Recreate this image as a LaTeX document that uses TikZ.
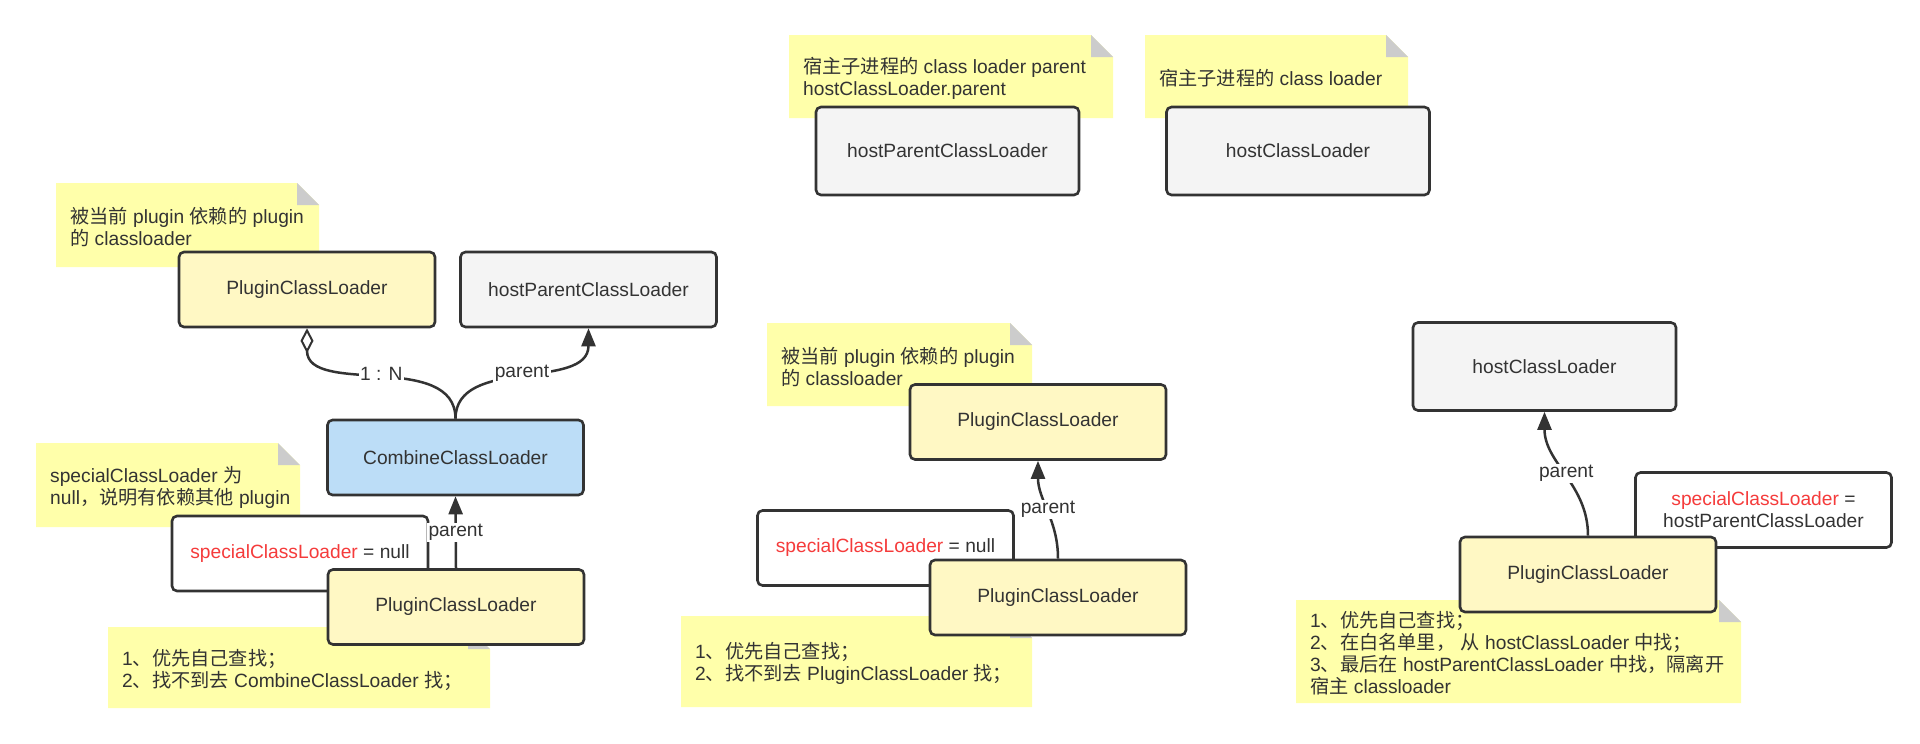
\documentclass[tikz,border=0pt]{standalone}
\usepackage{fontspec}
\setmainfont{Liberation Sans}
\newfontfamily\cjkfont{Noto Sans CJK SC}
\usetikzlibrary{arrows.meta}
\definecolor{inkc}{HTML}{333333}
\definecolor{notefill}{HTML}{FFFFAA}
\definecolor{foldgray}{HTML}{CCCCCC}
\definecolor{pluginfill}{HTML}{FFF8C4}
\definecolor{hostfill}{HTML}{F4F4F4}
\definecolor{combfill}{HTML}{BCDDF7}
\definecolor{redtxt}{HTML}{F53B3B}
\newcommand\zhtxt[1]{{\cjkfont #1}}
\newcommand\stickynote[6]{%
  \fill[notefill] (#2,#3) -- ({#4-22},#3) -- (#4,{#3+22}) -- (#4,#5) -- (#2,#5) -- cycle;
  \fill[foldgray] ({#4-22},#3) -- ({#4-22},{#3+22}) -- (#4,{#3+22}) -- cycle;
  \node[notetext] (#1) at ({#2+14},{(#3+#5)/2+2}) {#6};
}
\begin{document}
\begin{tikzpicture}[x=1pt,y=-1pt,
  txt/.style={text=inkc, font=\fontsize{19.2}{22}\selectfont},
  box/.style={txt, draw=inkc, line width=2.6pt, rounded corners=5pt,
    minimum width=256pt, minimum height=75pt, inner sep=0pt, align=center},
  bigbox/.style={box, minimum width=263pt, minimum height=88pt},
  pluginbox/.style={box, fill=pluginfill},
  hostbox/.style={box, fill=hostfill},
  combbox/.style={box, fill=combfill},
  whitebox/.style={box, fill=white},
  conn/.style={draw=inkc, line width=2.5pt},
  arr/.style={-{Triangle[length=18pt,width=14pt]}},
  agg/.style={-{Diamond[open,line width=2pt,length=25pt,width=13pt]}},
  lbl/.style={txt, fill=white, inner sep=1.5pt},
  notetext/.style={txt, align=left, inner sep=0pt, anchor=west}]
\fill[white] (0,0) rectangle (1920,744);
\useasboundingbox (0,0) rectangle (1920,744);

% ---------- notes ----------
\stickynote{noteA}{56}{183}{319}{267}{\zhtxt{被当前} plugin \zhtxt{依赖的} plugin\\\zhtxt{的} classloader}
\stickynote{noteB}{36}{443}{300}{527}{specialClassLoader \zhtxt{为}\\null\zhtxt{，说明有依赖其他} plugin}
\stickynote{noteC}{108}{627}{490}{708}{1\zhtxt{、优先自己查找；}\\2\zhtxt{、找不到去} CombineClassLoader \zhtxt{找；}}
\stickynote{noteD}{789}{35}{1113}{118}{\zhtxt{宿主子进程的} class loader parent\\hostClassLoader.parent}
\stickynote{noteE}{1145}{35}{1408}{118}{\zhtxt{宿主子进程的} class loader}
\stickynote{noteF}{767}{323}{1032}{406}{\zhtxt{被当前} plugin \zhtxt{依赖的} plugin\\\zhtxt{的} classloader}
\stickynote{noteG}{681}{616}{1032}{707}{1\zhtxt{、优先自己查找；}\\2\zhtxt{、找不到去} PluginClassLoader \zhtxt{找；}}
\stickynote{noteH}{1296}{600}{1741}{703}{1\zhtxt{、优先自己查找；}\\2\zhtxt{、在白名单里，} \zhtxt{从} hostClassLoader \zhtxt{中找；}\\3\zhtxt{、最后在} hostParentClassLoader \zhtxt{中找，隔离开}\\\zhtxt{宿主} classloader}

% ---------- white boxes ----------
\node[whitebox] (wA) at (300,553.5) {\textcolor{redtxt}{specialClassLoader} = null};
\node[whitebox] (wB) at (885.5,548) {\textcolor{redtxt}{specialClassLoader} = null};
\node[whitebox] (wC) at (1763.5,510) {\textcolor{redtxt}{specialClassLoader} =\\hostParentClassLoader};

% ---------- class loader boxes ----------
\node[pluginbox] (pclA) at (307,289.5) {PluginClassLoader};
\node[hostbox] (hpclA) at (588.5,289.5) {hostParentClassLoader};
\node[combbox] (comb) at (455.5,457.5) {CombineClassLoader};
\node[pluginbox] (pclB) at (456,607) {PluginClassLoader};

\node[hostbox,bigbox] (hpclM) at (947.5,151) {hostParentClassLoader};
\node[hostbox,bigbox] (hclM) at (1298,151) {hostClassLoader};

\node[pluginbox] (pclF) at (1038,422) {PluginClassLoader};
\node[pluginbox] (pclG) at (1058,597.5) {PluginClassLoader};

\node[hostbox,bigbox] (hclR) at (1544.5,366.5) {hostClassLoader};
\node[pluginbox] (pclR) at (1588,574.5) {PluginClassLoader};

% ---------- connectors ----------
\draw[conn,agg] (comb.north) to[out=90,in=-90] node[lbl] {1 : N} (pclA.south);
\draw[conn,arr] (comb.north) to[out=90,in=-90] node[lbl] {parent} (hpclA.south);
\draw[conn,arr] (pclB.north) -- node[lbl] {parent} (comb.south);
\draw[conn,arr] (pclG.north) to[out=90,in=-90] node[lbl] {parent} (pclF.south);
\draw[conn,arr] (pclR.north) to[out=90,in=-90] node[lbl] {parent} (hclR.south);
\end{tikzpicture}
\end{document}
